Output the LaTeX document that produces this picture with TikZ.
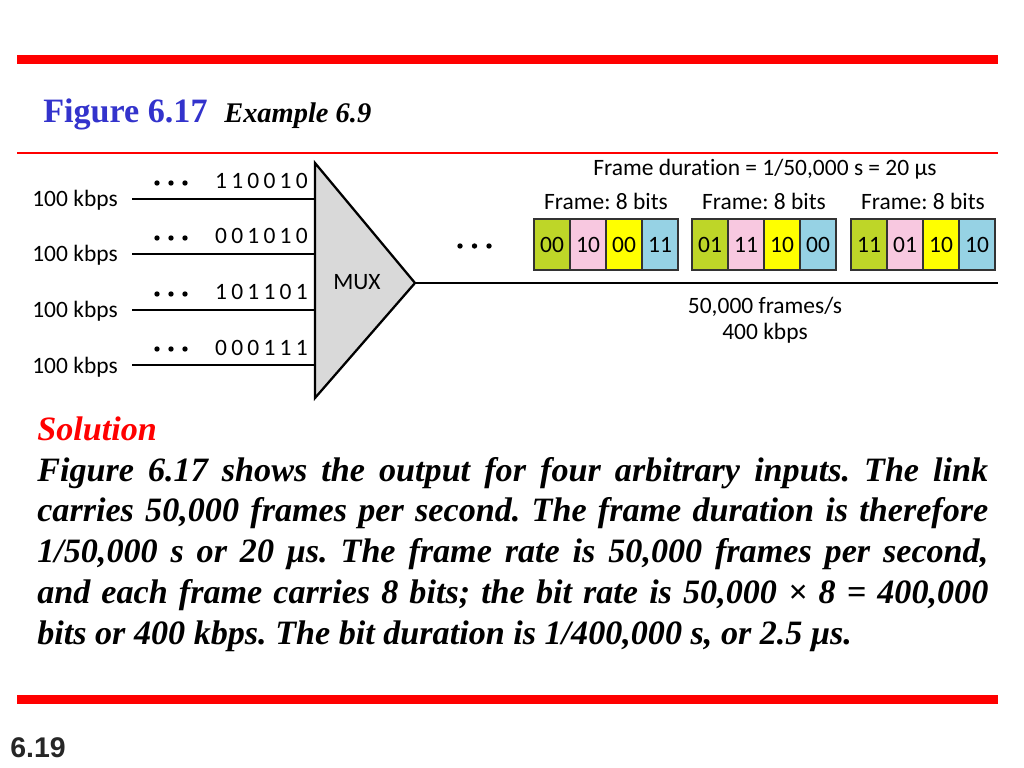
\documentclass[tikz,border=0pt]{standalone}
\usepackage{fontspec}
\setmainfont{Liberation Serif}
\newfontfamily\carlito[Ligatures=NoCommon]{Carlito}
\newfontfamily\arialsans{Liberation Sans}
\usetikzlibrary{positioning}
\definecolor{slideblue}{RGB}{51,51,204}
\definecolor{cellgreen}{RGB}{190,214,40}
\definecolor{cellpink}{RGB}{248,200,224}
\definecolor{cellyellow}{RGB}{255,255,0}
\definecolor{cellblue}{RGB}{150,210,228}
\definecolor{muxgray}{RGB}{217,217,217}
\frenchspacing
\begin{document}
\begin{tikzpicture}[x=0.703125pt, y=-0.703125pt, line join=miter,
  font=\carlito\fontsize{16.5}{19}\selectfont,
  lbl/.style={inner sep=0pt},
  wire/.style={line width=1.4pt},
  bitstream/.style={inner sep=0pt, font=\carlito\fontsize{16.5}{19}\selectfont\addfontfeature{LetterSpace=18}},
  bitcell/.style={draw=black!80, line width=1.1pt, minimum width=25.3pt, minimum height=35.9pt, inner sep=0pt},
  muxbody/.style={fill=muxgray, draw=black, line width=1.6pt},
  slidetext/.style={anchor=base west, inner sep=0pt, font=\rmfamily\bfseries\itshape\fontsize{24}{28.8}\selectfont}]
 \fill[white] (0,0) rectangle (1024,768);
 \useasboundingbox (0,0) rectangle (1024,768);
 \fill[red] (17,55) rectangle (998,64);
 \fill[red] (17,695) rectangle (998,704);
 \draw[red, line width=1.3pt] (17,153) -- (998,153);
 \node[anchor=base west, inner sep=0pt, text=slideblue, font=\rmfamily\bfseries\fontsize{24}{28}\selectfont] (figtitle) at (43,123) {Figure 6.17};
 \node[anchor=base west, inner sep=0pt, font=\rmfamily\bfseries\itshape\fontsize{20}{24}\selectfont] (extitle) at (224,123) {Example 6.9};
 \foreach \y/\bits [count=\i] in {199/110010, 254/001010, 310/101101, 365/000111} {
  \coordinate (in\i) at (132,\y);
  \coordinate (mux\i) at (315,\y);
  \draw[wire] (in\i) -- (mux\i);
  \node[lbl, anchor=base east] (rate\i) at (118,\y+8) {100 kbps};
  \node[bitstream, anchor=base east] (bits\i) at (308,\y-10) {\bits};
  \foreach \x in {157,171,185}
   \fill (\x,\y-16) circle (1.9pt);
 }
 \draw[muxbody] (315,163) -- (415,283) -- (315,398) -- cycle;
 \node[lbl, anchor=base] (muxlabel) at (357,290) {MUX};
 \coordinate (muxout) at (415,283);
 \coordinate (linkend) at (998,283);
 \draw[wire] (muxout) -- (linkend);
 \foreach \x in {460,474.5,489}
  \fill (\x,246) circle (1.9pt);
 \foreach \f/\fx/\pa/\pb/\pc/\pd in {1/534/00/10/00/11, 2/692/01/11/10/00, 3/851/11/01/10/10} {
  \foreach \bits/\col [count=\i] in {\pa/cellgreen, \pb/cellpink, \pc/cellyellow, \pd/cellblue}
   \node[bitcell, fill=\col] (f\f c\i) at (\fx+36*\i-18,244.5) {\bits};
  \node[lbl, anchor=base] (flabel\f) at (\fx+72,210) {Frame: 8 bits};
 }
 \node[lbl, anchor=base] (fdur) at (765,176) {Frame duration = 1/50,000 s = 20 μs};
 \node[lbl, anchor=base] (frate) at (765,313) {50,000 frames/s};
 \node[lbl, anchor=base] (brate) at (765,340) {400 kbps};
 \node[slidetext, text=red] (solhead) at (37,440) {Solution};
 \node[slidetext, text width=668.7pt, align=justify] (soltext) at (37,481)
  {\hyphenpenalty=10000\exhyphenpenalty=10000 Figure 6.17 shows the output for four arbitrary inputs. The link\linebreak
   carries 50,000 frames per second. The frame duration is therefore\linebreak
   1/50,000 s or 20 μs. The frame rate is 50,000 frames per second,\linebreak
   and each frame carries 8 bits; the bit rate is 50,000 × 8 = 400,000\linebreak
   bits or 400 kbps. The bit duration is 1/400,000 s, or 2.5 μs.};
 \node[anchor=base west, inner sep=0pt, text=black!85, font=\arialsans\bfseries\fontsize{20}{24}\selectfont] (pagenum) at (10,757) {6.19};
\end{tikzpicture}
\end{document}
